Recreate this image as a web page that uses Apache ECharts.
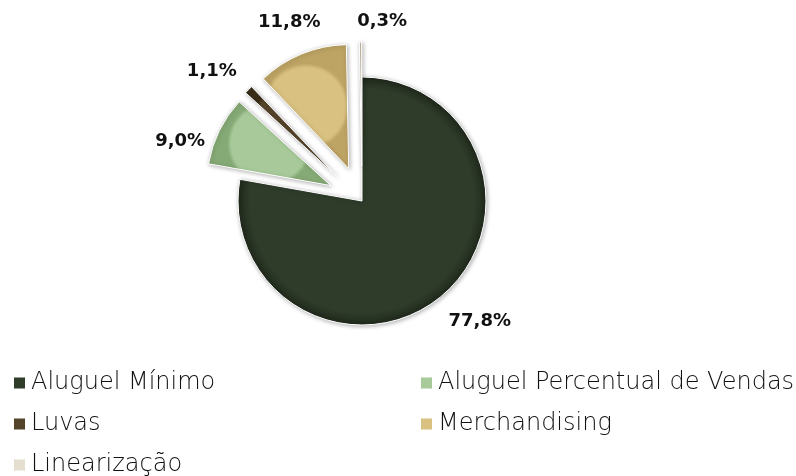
<!DOCTYPE html>
<html>
<head>
<meta charset="utf-8">
<script src="https://cdn.jsdelivr.net/npm/echarts@6/dist/echarts.min.js"></script>
<style>
  html, body { margin: 0; padding: 0; background: #fff; }
  #main { width: 796px; height: 476px; }
</style>
</head>
<body>
<div id="main"></div>
<script>
// receita por tipo (%)
var categories = ['Aluguel Mínimo', 'Aluguel Percentual de Vendas', 'Luvas', 'Merchandising', 'Linearização'];
var values = [77.8, 9.0, 1.1, 11.8, 0.3];
var exploded = [false, true, true, true, true];

var colors = [
  ['#2f3c2a', '#1f281b'],
  ['#a8ca9a', '#86aa76'],
  ['#54442a', '#392d19'],
  ['#d9c181', '#bda364'],
  ['#e4dfcf', '#c6bfa8']
];

// small nudges so the labels sit where Excel put them
var labelNudge = [[15, -2], [-7, 27], [-11, 7], [18, -6], [22, 15]];

function fill(c) {
  return {
    type: 'radial', x: 0.5, y: 0.5, r: 0.5,
    colorStops: [{ offset: 0, color: c[0] }, { offset: 0.9, color: c[0] }, { offset: 1, color: c[1] }]
  };
}

var chart = echarts.init(document.getElementById('main'));

var pieData = categories.map(function (name, i) {
  return {
    name: name,
    value: values[i],
    selected: exploded[i],
    itemStyle: { color: fill(colors[i]) }
  };
});

var legendFont = { fontFamily: 'DejaVu Sans', fontWeight: 200, fontSize: 24, lineHeight: 24, color: '#111' };

var option = {
  backgroundColor: '#ffffff',
  animation: false,
  color: colors.map(function (c) { return c[0]; }),
  legend: [{
    data: [categories[0], categories[2], categories[4]],
    orient: 'vertical',
    left: 12, top: 371, height: 140, padding: 0,
    itemWidth: 13, itemHeight: 13, itemGap: 17,
    icon: 'rect',
    selectedMode: false,
    textStyle: legendFont
  }, {
    data: [categories[1], categories[3]],
    orient: 'vertical',
    left: 419, top: 371, height: 140, padding: 0,
    itemWidth: 13, itemHeight: 13, itemGap: 17,
    icon: 'rect',
    selectedMode: false,
    textStyle: legendFont
  }],
  series: [{
    type: 'pie',
    center: [362, 201],
    radius: [0, 124],
    startAngle: 90,
    clockwise: true,
    selectedMode: 'multiple',
    selectedOffset: 35,
    data: pieData,
    itemStyle: {
      borderColor: '#ffffff',
      borderWidth: 1,
      shadowColor: 'rgba(0,0,0,0.3)',
      shadowBlur: 4,
      shadowOffsetX: 1,
      shadowOffsetY: 1
    },
    label: {
      show: true,
      position: 'outside',
      distanceToLabelLine: 0,
      formatter: function (p) { return p.value.toFixed(1).replace('.', ',') + '%'; },
      fontFamily: 'DejaVu Sans',
      fontWeight: 'bold',
      fontSize: 18,
      color: '#111'
    },
    labelLine: { show: false, length: 36, length2: 0 },
    labelLayout: function (p) {
      var n = labelNudge[p.dataIndex];
      return { align: 'center', dx: n[0], dy: n[1] };
    },
    emphasis: { disabled: true }
  }]
};

chart.setOption(option);
</script>
</body>
</html>
